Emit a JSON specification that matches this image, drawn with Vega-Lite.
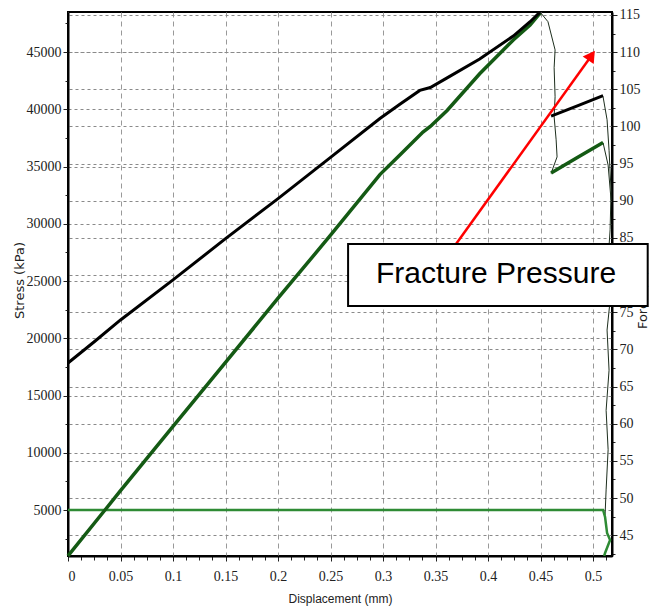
{
  "$schema": "https://vega.github.io/schema/vega-lite/v6.json",
  "width": 544,
  "height": 544,
  "autosize": {"type": "none"},
  "padding": {"left": 68, "top": 12, "right": 37, "bottom": 58},
  "background": "white",
  "config": {
    "view": {"stroke": "black", "strokeWidth": 2},
    "axis": {
      "labelFont": "Liberation Sans Narrow",
      "labelFontSize": 14,
      "labelColor": "#222",
      "labelOverlap": false,
      "titleFont": "DejaVu Sans",
      "titleFontWeight": "normal",
      "titleColor": "#222",
      "domainColor": "black",
      "domainWidth": 2,
      "tickColor": "#222",
      "gridColor": "#8a8a8a",
      "gridDash": [3, 3],
      "gridWidth": 1
    }
  },
  "datasets": {
    "black": [
      {"seg": "a", "d": 0, "stress": 17840},
      {"seg": "a", "d": 0.025, "stress": 19700},
      {"seg": "a", "d": 0.05, "stress": 21600},
      {"seg": "a", "d": 0.1, "stress": 25100},
      {"seg": "a", "d": 0.15, "stress": 28700},
      {"seg": "a", "d": 0.2, "stress": 32200},
      {"seg": "a", "d": 0.25, "stress": 35800},
      {"seg": "a", "d": 0.297, "stress": 39200},
      {"seg": "a", "d": 0.316, "stress": 40450},
      {"seg": "a", "d": 0.335, "stress": 41650},
      {"seg": "a", "d": 0.345, "stress": 41900},
      {"seg": "a", "d": 0.361, "stress": 42750},
      {"seg": "a", "d": 0.392, "stress": 44400},
      {"seg": "a", "d": 0.424, "stress": 46400},
      {"seg": "a", "d": 0.44, "stress": 47650},
      {"seg": "a", "d": 0.4495, "stress": 48490},
      {"seg": "b", "d": 0.46, "stress": 39400},
      {"seg": "b", "d": 0.485, "stress": 40300},
      {"seg": "b", "d": 0.5095, "stress": 41200}
    ],
    "green": [
      {"seg": "a", "d": 0, "stress": 1000},
      {"seg": "a", "d": 0.0352, "stress": 5000},
      {"seg": "a", "d": 0.05, "stress": 6700},
      {"seg": "a", "d": 0.1, "stress": 12300},
      {"seg": "a", "d": 0.15, "stress": 17900},
      {"seg": "a", "d": 0.2, "stress": 23500},
      {"seg": "a", "d": 0.25, "stress": 29000},
      {"seg": "a", "d": 0.297, "stress": 34300},
      {"seg": "a", "d": 0.316, "stress": 36000},
      {"seg": "a", "d": 0.338, "stress": 38010},
      {"seg": "a", "d": 0.345, "stress": 38500},
      {"seg": "a", "d": 0.361, "stress": 39900},
      {"seg": "a", "d": 0.392, "stress": 43100},
      {"seg": "a", "d": 0.424, "stress": 46050},
      {"seg": "a", "d": 0.44, "stress": 47360},
      {"seg": "a", "d": 0.4495, "stress": 48410},
      {"seg": "b", "d": 0.46, "stress": 34430},
      {"seg": "b", "d": 0.485, "stress": 35800},
      {"seg": "b", "d": 0.5095, "stress": 37100}
    ],
    "base": [
      {"o": 1, "d": 0, "stress": 5000},
      {"o": 2, "d": 0.5095, "stress": 5000},
      {"o": 3, "d": 0.5114, "stress": 4390},
      {"o": 4, "d": 0.5133, "stress": 2990},
      {"o": 5, "d": 0.5162, "stress": 2380},
      {"o": 6, "d": 0.5114, "stress": 1240},
      {"o": 7, "d": 0.5105, "stress": 990}
    ],
    "force": [
      {"seg": "a", "o": 1, "d": 0.4495, "force": 115.4},
      {"seg": "a", "o": 2, "d": 0.457, "force": 114.1},
      {"seg": "a", "o": 3, "d": 0.4638, "force": 110.3},
      {"seg": "a", "o": 4, "d": 0.4629, "force": 107.9},
      {"seg": "a", "o": 5, "d": 0.4638, "force": 104.0},
      {"seg": "a", "o": 6, "d": 0.4629, "force": 101.3},
      {"seg": "a", "o": 7, "d": 0.4648, "force": 98.2},
      {"seg": "a", "o": 8, "d": 0.4657, "force": 95.9},
      {"seg": "a", "o": 9, "d": 0.46, "force": 93.7},
      {"seg": "b", "o": 1, "d": 0.5095, "force": 104.0},
      {"seg": "b", "o": 2, "d": 0.5133, "force": 100.9},
      {"seg": "b", "o": 3, "d": 0.5152, "force": 96.8},
      {"seg": "b", "o": 4, "d": 0.5171, "force": 91.4},
      {"seg": "b", "o": 5, "d": 0.5162, "force": 86.1},
      {"seg": "b", "o": 6, "d": 0.5143, "force": 82.0},
      {"seg": "b", "o": 7, "d": 0.5162, "force": 76.6},
      {"seg": "b", "o": 8, "d": 0.5133, "force": 72.6},
      {"seg": "b", "o": 9, "d": 0.5152, "force": 67.2},
      {"seg": "b", "o": 10, "d": 0.5124, "force": 61.8},
      {"seg": "b", "o": 11, "d": 0.5143, "force": 56.5},
      {"seg": "b", "o": 12, "d": 0.5124, "force": 51.1},
      {"seg": "b", "o": 13, "d": 0.5114, "force": 47.7},
      {"seg": "c", "o": 1, "d": 0.5095, "force": 97.8},
      {"seg": "c", "o": 2, "d": 0.5143, "force": 94.8},
      {"seg": "c", "o": 3, "d": 0.5171, "force": 90.1}
    ],
    "arrow": [
      {"d": 0.3695, "stress": 28230},
      {"d": 0.4962, "stress": 44400}
    ],
    "head": [
      {"d": 0.4985, "stress": 44700}
    ],
    "box": [
      {"d": 0.2667, "d2": 0.552, "stress": 28230, "stress2": 22820}
    ],
    "label": [
      {"d": 0.4076, "stress": 25610, "text": "Fracture Pressure"}
    ]
  },
  "encoding": {
    "x": {
      "field": "d",
      "type": "quantitative",
      "scale": {"domain": [0, 0.518], "nice": false, "zero": false},
      "axis": {
        "values": [0, 0.0125, 0.025, 0.0375, 0.05, 0.0625, 0.075, 0.0875, 0.1, 0.1125, 0.125, 0.1375, 0.15, 0.1625, 0.175, 0.1875, 0.2, 0.2125, 0.225, 0.2375, 0.25, 0.2625, 0.275, 0.2875, 0.3, 0.3125, 0.325, 0.3375, 0.35, 0.3625, 0.375, 0.3875, 0.4, 0.4125, 0.425, 0.4375, 0.45, 0.4625, 0.475, 0.4875, 0.5, 0.5125],
        "labelExpr": "abs(datum.value*20 - round(datum.value*20)) < 0.001 ? format(datum.value, '.2~f') : ''",
        "tickSize": {"condition": {"test": "abs(datum.value*20 - round(datum.value*20)) < 0.001", "value": 5}, "value": 4},
        "gridOpacity": {"condition": {"test": "abs(datum.value*20 - round(datum.value*20)) < 0.001", "value": 1}, "value": 0},
        "title": "Displacement (mm)",
        "titleFont": "Liberation Sans",
        "titleFontSize": 12,
        "labelPadding": 8,
        "titlePadding": 10,
        "gridDash": [5, 4],
        "gridColor": "#999",
        "grid": true
      }
    }
  },
  "layer": [
    {
      "data": {"name": "force"},
      "mark": {"type": "line", "color": "#1d2e1d", "strokeWidth": 1},
      "encoding": {
        "y": {
          "field": "force",
          "type": "quantitative",
          "scale": {"domain": [42.2, 115.4], "nice": false, "zero": false},
          "axis": {
            "orient": "right",
            "values": [42.5, 45, 47.5, 50, 52.5, 55, 57.5, 60, 62.5, 65, 67.5, 70, 72.5, 75, 77.5, 80, 82.5, 85, 87.5, 90, 92.5, 95, 97.5, 100, 102.5, 105, 107.5, 110, 112.5, 115],
            "labelExpr": "datum.value % 5 === 0 ? datum.label : ''",
            "tickSize": {"condition": {"test": "datum.value % 5 === 0", "value": 5}, "value": 3},
            "gridOpacity": {"condition": {"test": "datum.value % 5 === 0", "value": 1}, "value": 0},
            "title": "Force (N)",
            "titleFontSize": 13,
            "titleAngle": 270,
            "titleY": 287,
            "titlePadding": 9,
            "labelPadding": 2,
            "grid": true
          }
        },
        "detail": {"field": "seg"},
        "order": {"field": "o"}
      }
    },
    {
      "encoding": {
        "y": {
          "field": "stress",
          "type": "quantitative",
          "scale": {"domain": [982, 48500], "nice": false, "zero": false},
          "axis": {
            "orient": "left",
            "values": [2500, 5000, 7500, 10000, 12500, 15000, 17500, 20000, 22500, 25000, 27500, 30000, 32500, 35000, 37500, 40000, 42500, 45000, 47500],
            "labelExpr": "datum.value % 5000 === 0 ? format(datum.value, 'd') : ''",
            "tickSize": {"condition": {"test": "datum.value % 5000 === 0", "value": 5}, "value": 3},
            "gridOpacity": {"condition": {"test": "datum.value % 5000 === 0", "value": 1}, "value": 0},
            "title": "Stress (kPa)",
            "titleFontSize": 13,
            "titlePadding": 0,
            "titleY": 268,
            "labelPadding": 2,
            "grid": true
          }
        }
      },
      "layer": [
        {
          "data": {"name": "base"},
          "mark": {"type": "line", "color": "#2e8b34", "strokeWidth": 2.5},
          "encoding": {"order": {"field": "o"}}
        },
        {
          "data": {"name": "green"},
          "mark": {"type": "line", "color": "#145a14", "strokeWidth": 3.5},
          "encoding": {"detail": {"field": "seg"}}
        },
        {
          "data": {"name": "black"},
          "mark": {"type": "line", "color": "black", "strokeWidth": 3},
          "encoding": {"detail": {"field": "seg"}}
        },
        {
          "data": {"name": "arrow"},
          "mark": {"type": "line", "color": "#ff0000", "strokeWidth": 2.5},
          "encoding": {}
        },
        {
          "data": {"name": "head"},
          "mark": {"type": "point", "shape": "triangle-up", "angle": 35, "size": 180, "filled": true, "color": "#ff0000", "opacity": 1},
          "encoding": {}
        },
        {
          "data": {"name": "box"},
          "mark": {"type": "rect", "fill": "white", "stroke": "black", "strokeWidth": 2},
          "encoding": {
            "x2": {"field": "d2"},
            "y2": {"field": "stress2"}
          }
        },
        {
          "data": {"name": "label"},
          "mark": {"type": "text", "font": "Liberation Sans", "fontSize": 30, "color": "black", "align": "center", "baseline": "middle"},
          "encoding": {"text": {"field": "text"}}
        }
      ]
    }
  ],
  "resolve": {"scale": {"y": "independent"}}
}
